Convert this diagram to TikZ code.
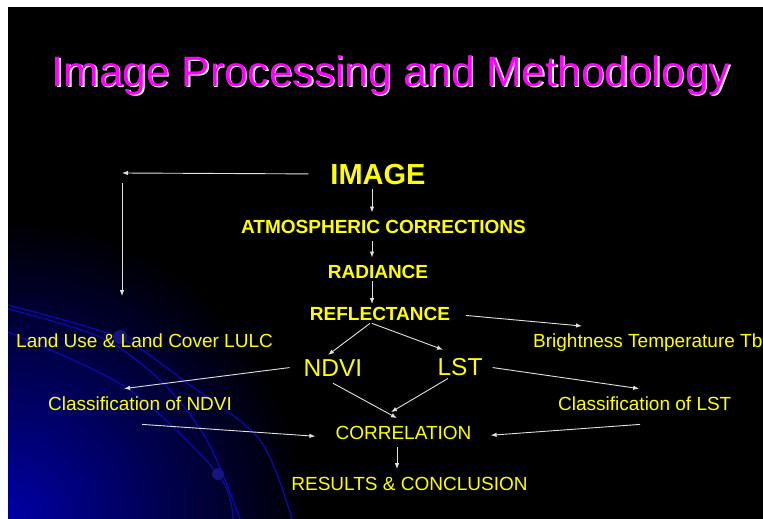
\documentclass[tikz,border=0pt]{standalone}
\usepackage{fontspec}
\setmainfont{Liberation Sans}
\usetikzlibrary{arrows.meta}
\definecolor{slideyellow}{RGB}{255,255,0}
\definecolor{slidepink}{RGB}{255,0,255}
\definecolor{slideblue}{RGB}{0,0,165}
\definecolor{arcblue}{RGB}{10,10,170}
\definecolor{dotblue}{RGB}{20,20,130}
\definecolor{wirecol}{RGB}{225,225,225}
\tikzset{
	txt/.style={text=slideyellow, inner sep=0pt, anchor=base, font=\fontsize{19}{21}\selectfont},
	btxt/.style={txt, font=\fontsize{19}{21}\selectfont\bfseries},
	bigtxt/.style={txt, font=\fontsize{24.5}{26}\selectfont},
	arr/.style={draw=wirecol, line width=0.9pt, -{Latex[length=6pt,width=4.5pt]}},
}
\begin{document}
\begin{tikzpicture}[x=1pt, y=-1pt]
	% Slide background:
	\useasboundingbox (0,0) rectangle (763,519);
	\fill[white] (0,0) rectangle (763,519);
	\fill[black] (8,7) rectangle (763,519);
	\begin{scope}
		\clip (8,7) rectangle (763,519);
		\shade[inner color=slideblue, outer color=black] (8,519) circle (300);
		\draw[arcblue, line width=1.3pt] plot[smooth] coordinates {(8,305) (120,338) (187,383) (260,440) (292,519)};
		\draw[arcblue, line width=1.3pt] plot[smooth] coordinates {(8,309) (100,337) (160,380) (207,440) (240,519)};
		\draw[arcblue, line width=1.3pt] plot[smooth] coordinates {(8,332) (127,388) (218,474) (233,519)};
		\fill[dotblue] (120,337) circle (7);
		\fill[dotblue] (218,474) circle (6);
	\end{scope}
	% Title:
	\node[inner sep=0pt, anchor=base, text=white, font=\fontsize{42.5}{45}\selectfont] at (392.5,87.5){Image Processing and Methodology};
	\node[inner sep=0pt, anchor=base, text=slidepink, font=\fontsize{42.5}{45}\selectfont](title) at (391,86){Image Processing and Methodology};
	% Nodes:
	\node[btxt, font=\fontsize{29}{31}\selectfont\bfseries](img) at (378,184){IMAGE};
	\node[btxt](atm) at (383.5,233){ATMOSPHERIC CORRECTIONS};
	\node[btxt](rad) at (378,278){RADIANCE};
	\node[btxt](refl) at (380,320){REFLECTANCE};
	\node[txt, anchor=base west](lulc) at (16,347){Land Use \& Land Cover LULC};
	\node[txt, anchor=base west](bright) at (533,347){Brightness Temperature Tb};
	\node[bigtxt](ndvi) at (333,376){NDVI};
	\node[bigtxt](lst) at (460,375){LST};
	\node[txt, anchor=base west](cndvi) at (48,410){Classification of NDVI};
	\node[txt, anchor=base west](clst) at (558,410){Classification of LST};
	\node[txt](corr) at (403.5,439){CORRELATION};
	\node[txt](res) at (409.5,490){RESULTS \& CONCLUSION};
	\coordinate (turn) at (122,173);
	% Arrows:
	\draw[arr, shorten <=22pt] (img.west) -- (turn);
	\draw[arr, shorten <=10pt, shorten >=37pt] (turn) -- (turn |- lulc.north);
	\draw[arr] ([xshift=-6pt, yshift=-5pt]img.south) -- ([xshift=-11.5pt, yshift=7pt]atm.north);
	\draw[arr] ([xshift=-11.5pt, yshift=-8pt]atm.south) -- ([xshift=-6pt, yshift=7pt]rad.north);
	\draw[arr] ([xshift=-6pt, yshift=-3pt]rad.south) -- ([xshift=-8pt, yshift=2.5pt]refl.north);
	\draw[arr] ([xshift=16pt, yshift=-2pt]refl.east) -- ([xshift=49pt, yshift=7pt]bright.north west);
	\draw[arr] ([xshift=-10pt, yshift=-3pt]refl.south) -- ([xshift=-5pt, yshift=4pt]ndvi.north);
	\draw[arr] ([xshift=-8pt, yshift=-3pt]refl.south) -- ([xshift=-17pt, yshift=8pt]lst.north);
	\draw[arr] ([xshift=-14pt]ndvi.west) -- ([xshift=-16pt, yshift=7.4pt]cndvi.north);
	\draw[arr] ([xshift=10pt, yshift=-1pt]lst.east) -- ([xshift=-5.6pt, yshift=7.4pt]clst.north);
	\draw[arr] ([yshift=-7pt]ndvi.south) -- ([xshift=-6.5pt, yshift=7.4pt]corr.north);
	\draw[arr] ([xshift=-12pt, yshift=-3pt]lst.south) -- ([xshift=-12.5pt, yshift=13.4pt]corr.north);
	\draw[arr] ([xshift=2pt, yshift=-14pt]cndvi.south) -- ([xshift=-20pt, yshift=-3.8pt]corr.west);
	\draw[arr] ([xshift=-4.6pt, yshift=-14pt]clst.south) -- ([xshift=19pt, yshift=-2.8pt]corr.east);
	\draw[arr] ([xshift=-6.5pt, yshift=-8pt]corr.south) -- ([xshift=-12.5pt, yshift=7.4pt]res.north);
\end{tikzpicture}
\end{document}
